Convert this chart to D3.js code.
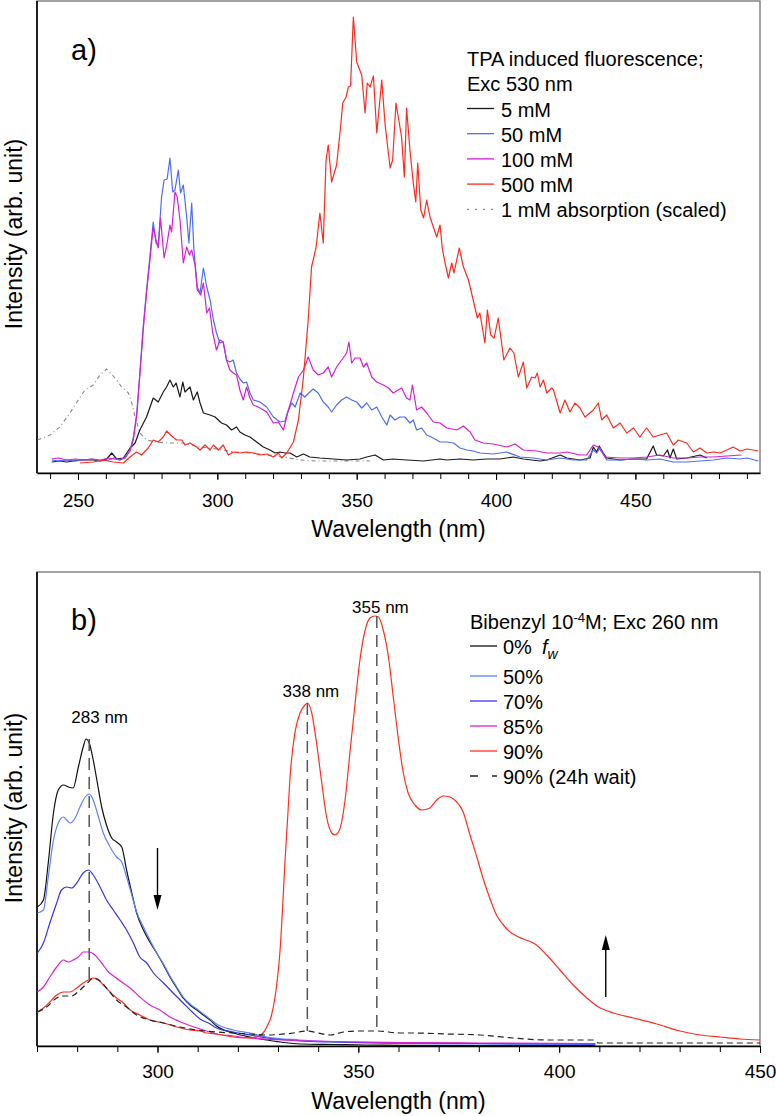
<!DOCTYPE html>
<html>
<head>
<meta charset="utf-8">
<script src="https://cdn.jsdelivr.net/npm/d3@7"></script>
<style>
body { margin: 0; background: #fff; }
svg text { font-family: "Liberation Sans", Arial, sans-serif; fill: #000; }
</style>
</head>
<body>
<script>
// ---------- panel a: TPA induced fluorescence, [wavelength nm, intensity arb.] ----------
const tpa5 = [[240.6,11],[243.6,12],[246,11],[250.7,13],[255.5,13],[257.9,12],[260.3,14],[262.1,20],[263.9,14],[266.3,15],[268.7,25],[270.5,30],[272.2,43],[274.6,56],[277,75],[278.8,71],[280.6,81],[281.8,86],[283,93],[284.2,86],[285.2,90],[286.6,76],[287.6,91],[288.4,81],[290.2,86],[291.4,73],[292.8,81],[293.8,70],[295,60],[297.4,58],[299.2,56],[301.5,50],[303.3,48],[305.1,43],[306.9,46],[308.1,41],[309.9,38],[311.7,36],[314.1,31],[316.5,26],[318.9,23],[320.7,20],[322.5,21],[324.3,20],[326.1,20],[328.5,16],[330.9,19],[333.2,16],[336.8,15],[341.6,14],[346.4,13],[351.2,14],[353.6,16],[356.6,18],[359.6,13],[363,14],[368,13],[374,12],[379.9,14],[382.3,13],[387.1,14],[391.8,13],[396.6,14],[401.4,14],[406.2,16],[409.8,14],[415.8,12],[418.2,13],[423,18],[425.4,15],[430.1,13],[433.7,15],[434.9,26],[436.1,21],[437,27],[438.5,20],[439.7,15],[444.5,13],[449.3,14],[454,14],[456.4,27],[457.6,18],[460,17],[461.5,23],[462.4,15],[463.6,24],[464.8,14],[468.4,15],[473.2,18],[475.6,15]];
const tpa50 = [[240.6,13],[243,12],[246,13],[249,12],[252,13],[255,14],[258,12],[261,13],[263,15],[265,13],[267,15],[268.7,23],[269.9,36],[271.1,60],[272.2,100],[273.4,146],[274.6,183],[275.8,216],[277,251],[278,230],[278.8,228],[280,276],[280.9,293],[282,294],[283,315],[284,281],[284.8,283],[286,303],[286.8,280],[287.8,288],[289,256],[289.8,230],[290.8,270],[291.6,223],[292.8,186],[293.8,180],[295,205],[296.2,186],[297.4,173],[298.6,153],[299.7,140],[300.9,130],[302.1,131],[303.3,113],[304.5,111],[305.7,113],[306.9,100],[308.1,94],[309.3,90],[310.5,91],[311.7,80],[312.9,73],[315.3,71],[317.7,66],[320.1,56],[322.5,51],[324.3,52],[325.1,60],[326.7,70],[327.9,66],[329.7,80],[331.4,76],[333.2,81],[334.4,84],[336.2,80],[338,71],[339.8,66],[341,61],[342.8,68],[344.6,73],[346.4,76],[348.2,73],[350,71],[351.8,65],[353.6,70],[355.4,63],[357.2,66],[359,56],[360.8,48],[362,58],[363.7,53],[365.5,56],[367.3,56],[369.1,50],[370.3,53],[371.5,43],[373.3,45],[375.1,38],[377.5,35],[379.9,31],[382.3,31],[384.7,30],[387.1,25],[389.5,23],[391.8,22],[394.2,20],[399,19],[403.8,21],[408.6,16],[413.4,15],[418.2,13],[423,15],[427.7,13],[432.5,13],[434.9,23],[436.1,20],[437.3,25],[439.7,13],[444.5,13],[449.3,14],[454,13],[458.8,14],[463.6,11],[468.4,11],[473.2,12],[478,13],[482.8,15],[487.5,14],[490,15],[494.1,12]];
const tpa100 = [[240.6,14],[243,15],[246,13],[249,14],[252,13],[255,14],[258,13],[261,15],[263,14],[265,13],[267,16],[268.7,22],[269.9,34],[271.1,58],[272.2,98],[273.4,143],[274.6,180],[275.8,213],[277,246],[278,233],[278.8,225],[279.6,255],[280.9,215],[282,230],[283,248],[283.6,241],[284.8,281],[285.6,276],[286.6,253],[287.8,210],[289,226],[290,218],[290.8,223],[292,208],[292.8,183],[294,178],[295,190],[296.2,160],[297.2,165],[298.3,141],[299.7,123],[300.9,133],[302.1,131],[303.3,113],[304.5,103],[305.7,100],[306.9,98],[308.1,83],[309.3,73],[310.5,86],[311.7,75],[312.9,68],[314.7,66],[317.7,61],[320.1,50],[321.9,51],[323.7,43],[325.5,63],[327.3,80],[329.1,96],[330.9,103],[332.6,116],[334.4,103],[336.2,98],[338,100],[339.8,106],[341,96],[342.8,106],[344.6,113],[346.4,120],[347.2,131],[348.2,110],[349.4,115],[351.2,115],[352.4,106],[353.6,110],[355.4,96],[357.2,91],[359.6,88],[361.4,85],[363.1,80],[366.1,85],[367.9,75],[369.1,73],[370,88],[371.5,63],[373.3,66],[375.1,60],[377.5,51],[379.9,50],[382.3,45],[385.9,43],[388.3,47],[390.7,41],[392.4,33],[395.4,30],[399,29],[403.8,26],[406.8,29],[409.8,23],[414.6,22],[418.2,20],[423,20],[425.4,21],[430.1,18],[432.5,18],[434.9,28],[436.7,26],[439.1,16],[444.5,15],[449.3,15],[454,16],[458.8,18],[463.6,15],[468.4,15],[473.2,16],[478,16],[482.8,17],[488.1,18]];
const tpa500 = [[250.7,10],[255.5,11],[259,13],[262.6,11],[266.3,10],[268.7,16],[271,21],[272.8,18],[275.2,25],[277,33],[278.8,31],[280.6,36],[281.8,42],[283.6,37],[285.4,33],[287.2,33],[288.4,28],[290.2,30],[292.6,26],[293.8,23],[295.6,28],[297.4,23],[298.6,28],[300.4,23],[302.1,28],[304,18],[305.7,21],[308.1,20],[310.5,21],[312.9,20],[315.3,18],[317.7,19],[320.1,16],[321.9,20],[323.1,15],[324.9,20],[327.3,31],[329.1,53],[330.9,96],[332.6,153],[333.8,206],[335.4,225],[336.8,260],[338,230],[339,313],[339.8,328],[341,291],[342.8,308],[344,340],[345,370],[346.2,376],[347,386],[347.8,387],[348.8,456],[350,411],[351.8,398],[353,360],[353.8,390],[354.8,386],[356,397],[357.2,340],[359,393],[360.2,348],[362,305],[362.9,313],[364.1,370],[366.1,336],[367.1,296],[367.9,365],[369.1,323],[370.3,290],[371.2,271],[371.9,310],[373,263],[374,255],[375.1,273],[376.3,256],[378.7,236],[379.9,248],[380.7,225],[381.7,210],[382.9,195],[384.1,210],[384.9,200],[386.8,225],[388.3,206],[390.1,193],[391.8,173],[393.3,155],[394.2,160],[396,130],[396.9,163],[398.1,138],[399.3,135],[400.8,155],[402.8,113],[405,125],[406.4,120],[408,96],[409.8,111],[411,85],[412.8,96],[414,95],[414.8,100],[415.8,86],[417,93],[418.2,80],[420,85],[420.6,83],[423,60],[424.7,73],[426.5,61],[428.3,70],[430.1,65],[431.9,56],[434.9,63],[436.7,70],[437.9,53],[439.7,58],[442.1,45],[444.5,50],[446.9,40],[449.3,45],[451.6,36],[454,45],[456.4,36],[458.8,38],[461.2,40],[463.6,28],[465.4,33],[468.4,30],[470.8,21],[473.2,25],[475.6,20],[478,21],[480.4,20],[482.8,23],[485.1,26],[487.5,22],[490,24],[492.3,23],[494.1,22]];
const abs1 = [[235.5,33],[240,38],[243.5,46],[247.1,60],[250.1,73],[252.5,83],[255.5,88],[257.9,98],[260.3,104],[263.3,95],[265.7,86],[268.1,80],[269.3,70],[270.5,56],[272.2,40],[274.6,33],[278.2,31],[281.8,30],[287.8,30],[293.8,26],[299.8,24],[305.7,21],[311.7,20],[317.7,18],[323.7,16],[329.7,13],[335.7,12],[341.6,12],[347.6,12],[354.8,12]];

const legendA = ["5 mM", "50 mM", "100 mM", "500 mM", "1 mM absorption (scaled)"];
const ticksA = [250, 300, 350, 400, 450];

// ---------- panel b: bibenzyl emission vs water fraction ----------
const fw0 = [[270.1,139],[271.6,146],[272.8,183],[274.1,233],[275.3,256],[276.6,261],[277.8,259],[279,258],[280.3,279],[281.5,299],[282.2,307],[283,303],[284,286],[284.9,266],[286.1,239],[287.3,221],[288.6,208],[289.8,204],[291.1,199],[292.3,176],[293.6,153],[294.8,133],[296.5,116],[298.1,104],[299.8,93],[301.5,81],[303.1,69],[304.8,58],[306.4,48],[308.1,41],[309.8,36],[311.4,31],[313.1,26],[314.7,20],[318.9,13],[323,9],[327.2,6],[331.3,3.5],[335.5,2],[343.8,1.5],[352,1],[360.4,0.6],[380,0.4],[409,0.3]];
const fw50 = [[270.1,133],[271.6,136],[272.8,169],[274.1,206],[275.3,223],[276.6,229],[277.4,226],[278.2,223],[279.5,228],[280.7,239],[282,249],[283,252],[284,246],[285.3,229],[286.5,213],[288.2,199],[289.8,189],[291.1,184],[292.3,169],[293.6,151],[294.8,134],[296.5,119],[298.1,106],[299.8,93],[301.5,82],[303.1,70],[304.8,59],[306.4,49],[308.1,42],[309.8,37],[311.4,32],[313.1,27],[314.7,22],[318.9,16],[323,13],[327.2,9],[335.5,6],[343.8,4],[352,3],[360.4,2.5],[380,2],[409,1.5]];
const fw70 = [[270.1,93],[271.6,103],[273.2,123],[274.9,143],[276.1,156],[277.4,159],[278.6,158],[279.9,163],[281.5,173],[282.8,176],[284,171],[285.7,159],[287.3,146],[289,136],[290.7,126],[292.3,116],[294,103],[295.6,89],[297.3,83],[299,73],[301.5,63],[303.9,53],[306.4,43],[308.9,33],[310.6,27],[313.1,22],[314.7,18],[318.9,14],[323,11],[327.2,8],[335.5,5],[343.8,4],[360.4,3],[380,2.5],[409,2]];
const fw85 = [[270.1,54],[271.6,59],[273.2,69],[274.9,79],[276.6,86],[277.8,84],[279,86],[280.3,89],[281.5,94],[283,94],[284.4,91],[286.1,83],[287.8,74],[289.4,69],[291.1,64],[293.2,58],[295.6,49],[298.1,41],[300.6,36],[303.1,29],[306.4,23],[309.8,18],[313.1,14],[314.7,12],[318.9,10],[323,8],[331.3,6],[343.8,4.5],[360.4,3.5],[380,3],[409,2.5]];
const fw90 = [[270.1,34],[271.6,38],[273.2,44],[274.9,51],[276.6,54],[278.2,54],[279.9,58],[281.5,63],[282.8,66],[284,68],[285.3,66],[286.5,61],[288.2,54],[289.8,48],[291.5,43],[293.2,36],[295.6,31],[298.1,26],[301.5,23],[304.8,19],[308.1,16],[310.6,15],[312.2,13],[314.7,12],[318.9,9],[322.2,8],[324.7,9],[326.3,13],[327.2,19],[328.4,31],[329.7,62],[330.5,95],[331.1,135],[331.7,182],[332.4,228],[333,269],[334.2,313],[335.5,333],[336.7,341],[337.3,343],[338.4,333],[339.6,303],[340.9,263],[342.1,229],[343.4,213],[344.2,211],[345.3,216],[346.7,246],[347.9,293],[349.2,343],[350.4,386],[351.7,416],[352.9,428],[354.1,430],[355,429],[356.2,416],[357.5,389],[358.7,349],[360,306],[361.2,273],[362.4,253],[364.1,241],[365.8,236],[367.8,238],[369.5,246],[371.2,250],[372.8,249],[374.5,244],[376.1,234],[377.8,211],[379.5,189],[381.1,167],[382.8,147],[384.4,131],[386.1,121],[387.8,114],[389.4,110],[391.1,107],[394,102],[396.9,91],[400.2,76],[403.5,61],[406.9,48],[409.8,39],[413.5,33],[418.5,28],[424.3,22],[430.1,15],[435.1,11],[440,9],[445,7],[450,6]];
const fw90wait = [[270.1,34],[272.4,39],[274.9,48],[276.6,50],[278.6,50],[280.7,56],[282.8,64],[284,68],[285.7,65],[287.3,58],[289.8,46],[292.3,39],[294.8,31],[298.1,26],[301.5,23],[305.6,19],[309.8,16],[314.7,14],[318.9,13],[323,12],[327.2,11],[333.8,13],[337.1,15],[340,13],[343,11],[346.3,14],[350,15],[354.6,15],[360.4,13],[363.7,13],[372,12],[380.3,11],[388.6,8],[396.9,6],[408.5,6],[409.8,3],[420,3],[435,3],[450,3]];

const legendB = ["0%", "50%", "70%", "85%", "90%", "90% (24h wait)"];
const ticksB = [300, 350, 400, 450];
// peak markers: wavelength, top intensity, bottom intensity, label
const peakNm = [283, 337.3, 354.6];
const peakTop = [307, 343, 430];
const peakBottom = [66, 15, 15];
const peakLabel = ["283 nm", "338 nm", "355 nm"];
const peakLabelAt = [[285.6, 323], [338.2, 349], [355.5, 433]];

// ---------- drawing ----------
const svg = d3.select("body").append("svg").attr("width", 776).attr("height", 1116);
const L = 37, R = 760;

function panel(p) {
  const x = d3.scaleLinear().domain(p.xDomain).range([L, R]);
  const y = d3.scaleLinear().domain([0, p.yMax]).range([p.bottom, p.top]);
  const g = svg.append("g");

  g.append("clipPath").attr("id", p.id).append("rect")
    .attr("x", L).attr("y", p.top).attr("width", R - L).attr("height", p.bottom - p.top);

  g.append("rect")
    .attr("x", L).attr("y", p.top).attr("width", R - L).attr("height", p.bottom - p.top)
    .attr("fill", "none").attr("stroke", "#666").attr("stroke-width", 1.2);

  // minor ticks
  g.append("g").attr("transform", "translate(0," + p.bottom + ")")
    .call(d3.axisBottom(x).tickValues(p.minor).tickSize(6).tickSizeOuter(0).tickFormat(""))
    .call(a => a.select(".domain").remove())
    .selectAll("line").attr("stroke", "#000").attr("stroke-width", 1);
  // major ticks + labels
  const ax = g.append("g").attr("transform", "translate(0," + p.bottom + ")")
    .call(d3.axisBottom(x).tickValues(p.major).tickSize(7).tickSizeOuter(0).tickFormat(d3.format("d")));
  ax.select(".domain").attr("stroke", "#000").attr("stroke-width", 1.6);
  ax.selectAll("line").attr("stroke", "#000").attr("stroke-width", 1);
  ax.selectAll("text").attr("y", p.tickY).attr("dy", 0)
    .style("font-size", "19px").style("font-family", "Liberation Sans, Arial, sans-serif");

  g.append("line").attr("x1", L).attr("x2", L).attr("y1", p.top).attr("y2", p.bottom)
    .attr("stroke", "#000").attr("stroke-width", 1.6);

  g.append("text").attr("x", (L + R) / 2).attr("y", p.titleY).attr("text-anchor", "middle")
    .style("font-size", "23px").text("Wavelength (nm)");
  g.append("text").attr("transform", "translate(22," + p.yTitleC + ") rotate(-90)")
    .attr("text-anchor", "middle").style("font-size", "23px").text("Intensity (arb. unit)");
  g.append("text").attr("x", 71).attr("y", p.tagY).style("font-size", "29px").text(p.tag);

  const plot = g.append("g").attr("clip-path", "url(#" + p.id + ")");
  p.series.forEach(s => {
    const line = d3.line().x(d => x(d[0])).y(d => y(d[1])).curve(s.curve || d3.curveLinear);
    plot.append("path").datum(s.data).attr("d", line)
      .attr("fill", "none").attr("stroke", s.color).attr("stroke-width", s.width || 1.2)
      .attr("stroke-dasharray", s.dash || null).attr("stroke-linejoin", "round");
  });
  return { x, y, g };
}

// panel a
const colA = ["#1a1a1a", "#4d6df5", "#d81ed2", "#ff2a1f", "#8a8a8a"];
const pa = panel({
  id: "clipA", top: 1, bottom: 473, xDomain: [235.3, 494.7], yMax: 472,
  major: ticksA, minor: d3.range(240, 491, 10), tickY: 33.5, titleY: 537, yTitleC: 234,
  tag: "a)", tagY: 60,
  series: [
    { data: abs1, color: colA[4], dash: "4,3,1,3", width: 1.1 },
    { data: tpa5, color: colA[0] },
    { data: tpa50, color: colA[1] },
    { data: tpa100, color: colA[2] },
    { data: tpa500, color: colA[3] }
  ]
});
const legA = pa.g.append("g");
legA.append("text").attr("x", 467).attr("y", 66).style("font-size", "20px").text("TPA induced fluorescence;");
legA.append("text").attr("x", 467).attr("y", 91).style("font-size", "20px").text("Exc 530 nm");
legendA.forEach((name, i) => {
  const yy = 108.5 + i * 25.2;
  legA.append("line").attr("x1", 467).attr("x2", 494).attr("y1", yy).attr("y2", yy)
    .attr("stroke", colA[i]).attr("stroke-width", 1.3).attr("stroke-dasharray", i === 4 ? "2,6" : null);
  legA.append("text").attr("x", 501).attr("y", yy + 8).style("font-size", "20px").text(name);
});

// panel b
const colB = ["#111", "#5a82ff", "#3535ef", "#e020d0", "#ff2e1e", "#222"];
const pb = panel({
  id: "clipB", top: 572, bottom: 1046, xDomain: [270, 450], yMax: 474,
  major: ticksB, minor: d3.range(270, 451, 10), tickY: 32, titleY: 1109, yTitleC: 808,
  tag: "b)", tagY: 630,
  series: [
    { data: fw0, color: colB[0], curve: d3.curveMonotoneX },
    { data: fw50, color: colB[1], curve: d3.curveMonotoneX },
    { data: fw70, color: colB[2], curve: d3.curveMonotoneX },
    { data: fw85, color: colB[3], curve: d3.curveMonotoneX },
    { data: fw90, color: colB[4], curve: d3.curveMonotoneX },
    { data: fw90wait, color: colB[5], dash: "6,4", curve: d3.curveMonotoneX }
  ]
});
const xb = pb.x, yb = pb.y;
peakNm.forEach((nm, i) => {
  pb.g.append("line").attr("x1", xb(nm)).attr("x2", xb(nm))
    .attr("y1", yb(peakTop[i])).attr("y2", yb(peakBottom[i]))
    .attr("stroke", "#555").attr("stroke-width", 1.5).attr("stroke-dasharray", "12,7");
  pb.g.append("text").attr("x", xb(peakLabelAt[i][0])).attr("y", yb(peakLabelAt[i][1]))
    .attr("text-anchor", "middle").style("font-size", "17px").text(peakLabel[i]);
});

// arrows
const arrows = [[300, 198, 136], [411.6, 49, 111]];
arrows.forEach(a => {
  const ax = xb(a[0]), y0 = yb(a[1]), y1 = yb(a[2]);
  const dir = y1 > y0 ? 1 : -1;
  pb.g.append("line").attr("x1", ax).attr("x2", ax).attr("y1", y0).attr("y2", y1 - dir * 12)
    .attr("stroke", "#000").attr("stroke-width", 1.4);
  pb.g.append("path")
    .attr("d", `M${ax},${y1} L${ax - 4},${y1 - dir * 15} L${ax + 4},${y1 - dir * 15} Z`)
    .attr("fill", "#000");
});

const legB = pb.g.append("g");
const head = legB.append("text").attr("x", 470).attr("y", 629).style("font-size", "20px");
head.append("tspan").text("Bibenzyl 10");
head.append("tspan").attr("dy", -7).style("font-size", "13px").text("-4");
head.append("tspan").attr("dy", 7).text("M; Exc 260 nm");
const rowY = [646, 676, 701, 726, 751, 776];
legendB.forEach((name, i) => {
  const yy = rowY[i];
  legB.append("line").attr("x1", 470).attr("x2", 497).attr("y1", yy).attr("y2", yy)
    .attr("stroke", colB[i]).attr("stroke-width", 1.3).attr("stroke-dasharray", i === 5 ? "8,14" : null);
  const t = legB.append("text").attr("x", 503).attr("y", yy + 8).style("font-size", "20px").text(name);
  if (i === 0) {
    t.append("tspan").attr("dx", 10).style("font-style", "italic").text("f");
    t.append("tspan").attr("dy", 5).style("font-style", "italic").style("font-size", "14px").text("w");
  }
});
</script>
</body>
</html>
